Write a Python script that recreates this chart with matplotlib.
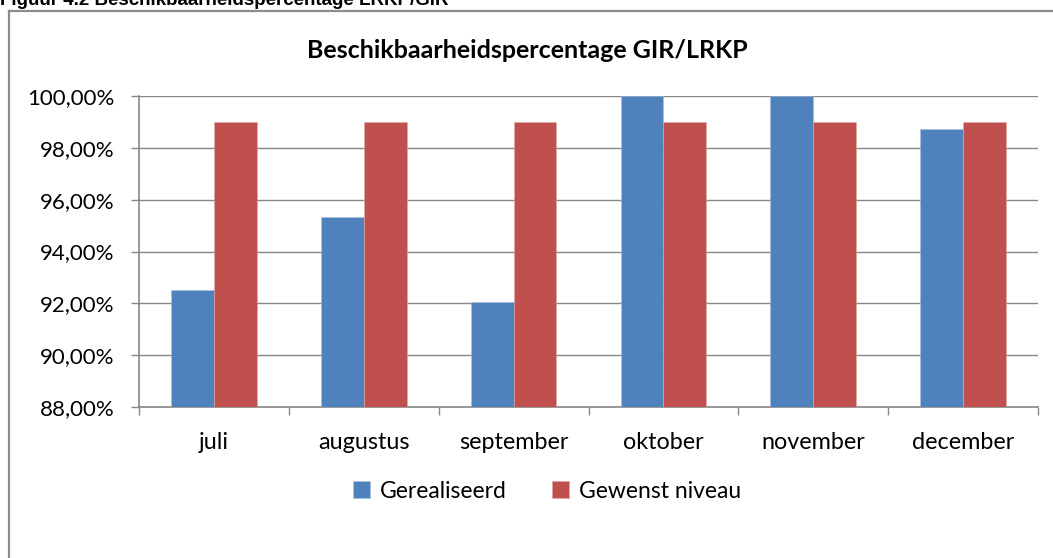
import matplotlib
matplotlib.use("Agg")
import matplotlib.pyplot as plt
from matplotlib.lines import Line2D
from matplotlib.ticker import FuncFormatter
import numpy as np

categories = ["juli", "augustus", "september", "oktober", "november", "december"]
gerealiseerd = [92.50, 95.33, 92.05, 100.00, 100.00, 98.72]
gewenst = [99.00, 99.00, 99.00, 99.00, 99.00, 99.00]
series_names = ["Gerealiseerd", "Gewenst niveau"]
y_ticks = [88, 90, 92, 94, 96, 98, 100]
title = "Beschikbaarheidspercentage GIR/LRKP"
caption = "Figuur 4.2 Beschikbaarheidspercentage LRKP/GIR"

BLUE = "#4F81BD"
RED = "#C0504D"
GRID = "#878787"
FONT = ["Lato", "DejaVu Sans"]

W, H = 1053, 558
fig = plt.figure(figsize=(W / 100, H / 100), dpi=100)
fig.patch.set_facecolor("white")

# outer chart frame (only top and left visible in reference)
fig.add_artist(Line2D([9 / W, 1.0], [1 - 11 / H, 1 - 11 / H], color="#8C8C8C", lw=1.6))
fig.add_artist(Line2D([9 / W, 9 / W], [0.0, 1 - 11 / H], color="#8C8C8C", lw=1.6))

# caption, partially cut at the top (as in the reference)
fig.text(0 / W, 1 - 5 / H, caption, fontsize=13.5, fontweight="bold",
         family=["Liberation Sans", "DejaVu Sans"], va="baseline", ha="left")

left, right, top, bottom = 139.3, 1037.7, 96.3, 406.7
ax = fig.add_axes([left / W, 1 - bottom / H, (right - left) / W, (bottom - top) / H])

x = np.arange(len(categories))
bw = 0.285
ax.bar(x - bw / 2, gerealiseerd, bw, color=BLUE, edgecolor="#A7BFDE", linewidth=0.4,
       label=series_names[0], zorder=3)
ax.bar(x + bw / 2, gewenst, bw, color=RED, edgecolor="#E0A9A7", linewidth=0.4,
       label=series_names[1], zorder=3)

ax.set_ylim(88, 100)
ax.set_xlim(-0.5, len(categories) - 0.5)
ax.set_yticks(y_ticks)
ax.yaxis.set_major_formatter(FuncFormatter(lambda v, p: f"{v:.2f}%".replace(".", ",")))
ax.grid(axis="y", color=GRID, lw=1.0, zorder=0)
ax.set_axisbelow(True)

ax.set_xticks(np.arange(-0.5, len(categories), 1.0))
ax.set_xticklabels([])
ax.set_xticks(x, minor=True)
ax.set_xticklabels(categories, minor=True)
ax.tick_params(axis="x", which="minor", length=0, pad=18, labelsize=16.8)
ax.tick_params(axis="x", which="major", length=6, width=1.0, color=GRID, direction="out")
ax.tick_params(axis="y", length=6, width=1.0, color=GRID, direction="out", pad=12, labelsize=16)
for lab in ax.get_xticklabels(minor=True) + ax.get_yticklabels():
    lab.set_family(FONT)

for s in ["top", "right"]:
    ax.spines[s].set_visible(False)
for s in ["left", "bottom"]:
    ax.spines[s].set_color(GRID)
    ax.spines[s].set_linewidth(1.2)

fig.text(527 / W, 1 - 50 / H, title, fontsize=18, fontweight="bold", family=FONT,
         ha="center", va="center")

handles, labels = ax.get_legend_handles_labels()
leg = fig.legend(handles, labels, loc="center", bbox_to_anchor=(547 / W, 1 - 491 / H),
                 ncol=2, frameon=False, prop={"family": FONT, "size": 16.5},
                 handlelength=0.75, handleheight=0.75, handletextpad=0.4, columnspacing=2.0)

fig.savefig("out.png", dpi=100, facecolor="white")
